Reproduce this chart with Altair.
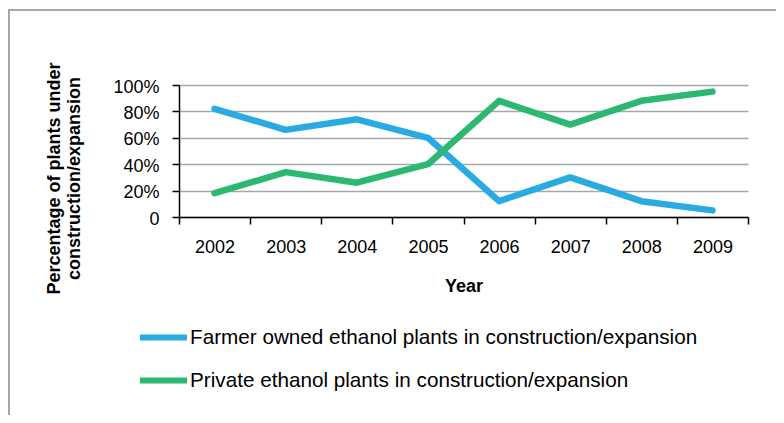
import altair as alt
import pandas as pd

years = ["2002", "2003", "2004", "2005", "2006", "2007", "2008", "2009"]
farmer = [0.82, 0.66, 0.74, 0.60, 0.12, 0.30, 0.12, 0.05]
private = [0.18, 0.34, 0.26, 0.40, 0.88, 0.70, 0.88, 0.95]
series_names = [
    "Farmer owned ethanol plants in construction/expansion",
    "Private ethanol plants in construction/expansion",
]
series_colors = ["#29ABE2", "#2DB872"]
y_ticks = [0, 0.2, 0.4, 0.6, 0.8, 1.0]

rows = []
for i, yr in enumerate(years):
    rows.append({"year": yr, "value": farmer[i], "series": series_names[0]})
    rows.append({"year": yr, "value": private[i], "series": series_names[1]})
df = pd.DataFrame(rows)

FONT = "Liberation Sans"

lines = alt.Chart(df).mark_line(strokeWidth=6.5, strokeCap="round", strokeJoin="round").encode(
    x=alt.X(
        "year:O",
        sort=years,
        scale=alt.Scale(type="band", paddingInner=0, paddingOuter=0),
        axis=alt.Axis(
            title="Year",
            titleFont=FONT,
            titleFontSize=18,
            titleFontWeight="bold",
            titleColor="#000000",
            titleY=69,
            titleBaseline="middle",
            labelFont=FONT,
            labelFontSize=18,
            labelColor="#000000",
            labelAngle=0,
            labelBaseline="middle",
            labelPadding=23,
            tickBand="extent",
            tickSize=7,
            tickColor="#000000",
            tickWidth=1.5,
            domainColor="#000000",
            domainWidth=1.5,
            grid=False,
        ),
    ),
    y=alt.Y(
        "value:Q",
        scale=alt.Scale(domain=[0, 1], nice=False),
        axis=alt.Axis(
            title=["Percentage of plants under", "construction/expansion"],
            titleFont=FONT,
            titleFontSize=18,
            titleFontWeight="bold",
            titleColor="#000000",
            titleLineHeight=20,
            titleAngle=-90,
            titleX=-125,
            titleY=93,
            titleAlign="center",
            titleBaseline="middle",
            values=y_ticks,
            labelExpr="datum.value == 0 ? '0' : format(datum.value, '.0%')",
            labelFont=FONT,
            labelFontSize=18,
            labelColor="#000000",
            labelPadding=13,
            labelOffset=2,
            labelBaseline="middle",
            tickSize=7,
            tickColor="#000000",
            tickWidth=1.5,
            domainColor="#000000",
            domainWidth=1.5,
            grid=True,
            gridColor="#A6A6A6",
            gridWidth=1.5,
        ),
    ),
    color=alt.Color(
        "series:N",
        scale=alt.Scale(domain=series_names, range=series_colors),
        legend=alt.Legend(
            orient="none",
            legendX=-42,
            legendY=226,
            title=None,
            direction="vertical",
            symbolType="stroke",
            symbolSize=2209,
            symbolStrokeWidth=6,
            labelFont=FONT,
            labelFontSize=20.7,
            labelColor="#000000",
            labelOffset=0,
            labelLimit=800,
            rowPadding=4,
            padding=0,
        ),
    ),
)

frame_top = alt.Chart(alt.Data(values=[{}])).mark_rule(color="#A6A6A6", strokeWidth=2).encode(
    x=alt.value(-171), x2=alt.value(620), y=alt.value(-75)
)
frame_left = alt.Chart(alt.Data(values=[{}])).mark_rule(color="#A6A6A6", strokeWidth=2).encode(
    x=alt.value(-170), y=alt.value(-75), y2=alt.value(340)
)

chart = alt.layer(frame_top, frame_left, lines).properties(
    width=569,
    height=132,
    padding={"left": 171, "top": 77, "right": 28, "bottom": 198},
    autosize=alt.AutoSizeParams(type="none"),
    background="white",
).configure_view(stroke=None)

chart.save("out.html", embed_options={"renderer": "svg", "actions": False})
